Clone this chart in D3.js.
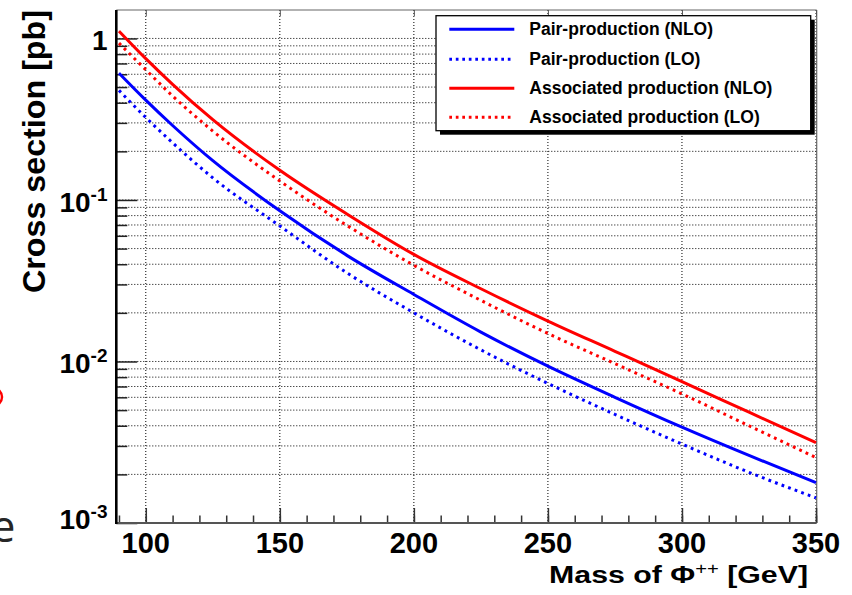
<!DOCTYPE html>
<html>
<head>
<meta charset="utf-8">
<script src="https://cdn.jsdelivr.net/npm/d3@7"></script>
<style>
  html, body { margin: 0; padding: 0; background: #fff; }
  svg { display: block; }
  text { font-family: "Liberation Sans", Arial, Helvetica, sans-serif; }
</style>
</head>
<body>
<svg id="chart" width="852" height="595"></svg>
<script>
// ---------- data ----------
const mass = [90, 100, 110, 125, 150, 175, 200, 225, 250, 275, 300, 325, 350];
const pairNLO  = [0.61, 0.415, 0.289, 0.175, 0.0857, 0.0454, 0.026, 0.0152, 0.00935, 0.0060, 0.00392, 0.00262, 0.00178];
const pairLO   = [0.477, 0.324, 0.226, 0.137, 0.069, 0.0354, 0.0200, 0.0118, 0.00731, 0.0047, 0.00308, 0.00206, 0.00143];
const assocNLO = [1.11, 0.75, 0.52, 0.314, 0.1526, 0.0819, 0.046, 0.0282, 0.0178, 0.01156, 0.0075, 0.00485, 0.00314];
const assocLO  = [0.935, 0.64, 0.44, 0.267, 0.131, 0.0696, 0.0394, 0.0239, 0.0149, 0.0097, 0.0063, 0.0040, 0.00254];

const seriesNames = ["Pair-production (NLO)", "Pair-production (LO)", "Associated production (NLO)", "Associated production (LO)"];
const seriesColors = ["#0000ff", "#0000ff", "#ff0000", "#ff0000"];
const seriesDotted = [false, true, false, true];
const seriesValues = [pairNLO, pairLO, assocNLO, assocLO];

const xMajorTicks = [100, 150, 200, 250, 300, 350];
const xMinorTicks = d3.range(90, 351, 10);
const yDecadeTicks = [1, 0.1, 0.01, 0.001];
const yDecadeExps = ["", "-1", "-2", "-3"];
const xTitle = "Mass of Φ";
const xTitleSup = "++";
const xTitleTail = " [GeV]";
const yTitle = "Cross section [pb]";

// ---------- layout ----------
const svg = d3.select("#chart");
const L = 116.3, R = 816, T = 10, B = 523;

const x = d3.scaleLinear().domain([89, 350]).range([L, R]);
const y = d3.scaleLog().domain([0.001, 1.5]).range([B, T]);

// all log ticks (minor + decades)
const yAllTicks = [];
for (let e = -3; e <= 0; e++) {
  for (let m = 1; m <= 9; m++) {
    const v = m * Math.pow(10, e);
    if (v >= 0.001 && v <= 1.5) yAllTicks.push(v);
  }
}
const yMinorTicks = yAllTicks.filter(v => !yDecadeTicks.some(d => Math.abs(d - v) / d < 1e-9));

// ---------- stray slide artefacts at the left edge ----------
svg.append("ellipse")
  .attr("cx", -19).attr("cy", 397).attr("rx", 21).attr("ry", 13)
  .attr("fill", "none").attr("stroke", "#ff0000").attr("stroke-width", 2.5);
svg.append("text")
  .attr("x", 15.5).attr("y", 542)
  .attr("text-anchor", "end")
  .style("font-family", "'Open Sans', 'DejaVu Sans', sans-serif")
  .style("font-size", "43px")
  .attr("fill", "#262626")
  .text("e");

// ---------- grid ----------
const grid = svg.append("g");
grid.selectAll("line.h").data(yAllTicks).join("line")
  .attr("x1", L).attr("x2", R)
  .attr("y1", d => y(d)).attr("y2", d => y(d))
  .attr("stroke", "#000").attr("stroke-width", 1)
  .attr("stroke-dasharray", "1,2");
grid.selectAll("line.v").data(xMajorTicks).join("line")
  .attr("x1", d => x(d)).attr("x2", d => x(d))
  .attr("y1", T).attr("y2", B)
  .attr("stroke", "#000").attr("stroke-width", 1)
  .attr("stroke-dasharray", "1,2");

// ---------- frame ----------
svg.append("line").attr("x1", L).attr("x2", R + 0.7).attr("y1", T).attr("y2", T)
  .attr("stroke", "#666").attr("stroke-width", 1.2);
svg.append("line").attr("x1", R + 0.7).attr("x2", R + 0.7).attr("y1", T).attr("y2", B)
  .attr("stroke", "#666").attr("stroke-width", 1.2);

// ---------- axes (tick marks via d3 axes) ----------
const xMajAxis = d3.axisTop(x).tickValues(xMajorTicks).tickSize(15).tickFormat("");
const xMinAxis = d3.axisTop(x).tickValues(xMinorTicks).tickSize(7.5).tickFormat("");
const gxMin = svg.append("g").attr("transform", `translate(0,${B})`).call(xMinAxis);
const gxMaj = svg.append("g").attr("transform", `translate(0,${B})`).call(xMajAxis);
[gxMin, gxMaj].forEach(g => {
  g.select(".domain").remove();
  g.selectAll(".tick line").attr("stroke", "#333").attr("stroke-width", 1.5);
});
// top ticks
const xTopAxis = d3.axisBottom(x).tickValues(xMajorTicks).tickSize(6).tickFormat("");
const gxTop = svg.append("g").attr("transform", `translate(0,${T})`).call(xTopAxis);
gxTop.select(".domain").remove();
gxTop.selectAll(".tick line").attr("stroke", "#555").attr("stroke-width", 1);

const yMajAxis = d3.axisRight(y).tickValues(yDecadeTicks).tickSize(21).tickFormat("");
const yMinAxis = d3.axisRight(y).tickValues(yMinorTicks).tickSize(11).tickFormat("");
const gyMin = svg.append("g").attr("transform", `translate(${L},0)`).call(yMinAxis);
const gyMaj = svg.append("g").attr("transform", `translate(${L},0)`).call(yMajAxis);
[gyMin, gyMaj].forEach(g => {
  g.select(".domain").remove();
  g.selectAll(".tick line").attr("stroke", "#222").attr("stroke-width", 1.5);
});

// axis lines
svg.append("line").attr("x1", L).attr("x2", R + 0.7).attr("y1", B).attr("y2", B)
  .attr("stroke", "#555").attr("stroke-width", 2.2);
svg.append("line").attr("x1", L).attr("x2", L).attr("y1", T).attr("y2", B + 1)
  .attr("stroke", "#000").attr("stroke-width", 2.6);

// ---------- tick labels ----------
svg.append("g").selectAll("text").data(xMajorTicks).join("text")
  .attr("x", d => x(d)).attr("y", 553)
  .attr("text-anchor", "middle")
  .style("font-size", "29px").style("font-weight", "bold")
  .attr("fill", "#000")
  .text(d => d);

const yl = svg.append("g").selectAll("text").data(yDecadeTicks).join("text")
  .attr("x", 107.5)
  .attr("y", (d, i) => i === yDecadeTicks.length - 1 ? y(d) + 6 : y(d) + 12)
  .attr("text-anchor", "end")
  .style("font-size", "28px").style("font-weight", "bold")
  .attr("fill", "#000");
yl.each(function(d, i) {
  const t = d3.select(this);
  if (yDecadeExps[i] === "") {
    t.text("1");
  } else {
    t.append("tspan").text("10");
    t.append("tspan").attr("dy", -11).style("font-size", "19px").text(yDecadeExps[i]);
  }
});

// ---------- axis titles ----------
const xt = svg.append("text")
  .attr("text-anchor", "end")
  .style("font-size", "24px").style("font-weight", "bold")
  .attr("fill", "#000");
xt.append("tspan").text(xTitle);
xt.append("tspan").attr("dy", -9).style("font-size", "16px").style("font-weight", "normal").text(xTitleSup);
xt.append("tspan").attr("dy", 9).text(xTitleTail);
const xtLen = xt.node().getComputedTextLength();
xt.attr("transform", `translate(808,583) scale(${259 / xtLen},1)`);

const ytt = svg.append("text")
  .attr("text-anchor", "middle")
  .style("font-size", "32px").style("font-weight", "bold")
  .attr("fill", "#000")
  .text(yTitle);
const ytLen = ytt.node().getComputedTextLength();
ytt.attr("transform", `translate(45,151.5) rotate(-90) scale(${283 / ytLen},1)`);

// ---------- curves ----------
const line = d3.line()
  .x(d => x(d[0]))
  .y(d => y(d[1]))
  .curve(d3.curveMonotoneX);

const plot = svg.append("g");
seriesValues.forEach((vals, i) => {
  plot.append("path")
    .datum(mass.map((m, j) => [m, vals[j]]))
    .attr("d", line)
    .attr("fill", "none")
    .attr("stroke", seriesColors[i])
    .attr("stroke-width", 3)
    .attr("stroke-dasharray", seriesDotted[i] ? "2.8,4.2" : null);
});

// ---------- legend ----------
const lg = svg.append("g");
lg.append("rect").attr("x", 440).attr("y", 19.7).attr("width", 374.7).attr("height", 115)
  .attr("fill", "#000");
lg.append("rect").attr("x", 436).attr("y", 15.7).attr("width", 374.7).attr("height", 115)
  .attr("fill", "#fff").attr("stroke", "#000").attr("stroke-width", 1.3);
const rowY = [29.3, 59.3, 88.3, 117.3];
seriesNames.forEach((name, i) => {
  lg.append("line")
    .attr("x1", 449.3).attr("x2", 514.3)
    .attr("y1", rowY[i]).attr("y2", rowY[i])
    .attr("stroke", seriesColors[i]).attr("stroke-width", 3)
    .attr("stroke-dasharray", seriesDotted[i] ? "2.7,3.8" : null);
  lg.append("text")
    .attr("x", 529.3).attr("y", rowY[i] + 6)
    .style("font-size", "17.5px").style("font-weight", "bold")
    .attr("fill", "#000")
    .text(name);
});
</script>
</body>
</html>
